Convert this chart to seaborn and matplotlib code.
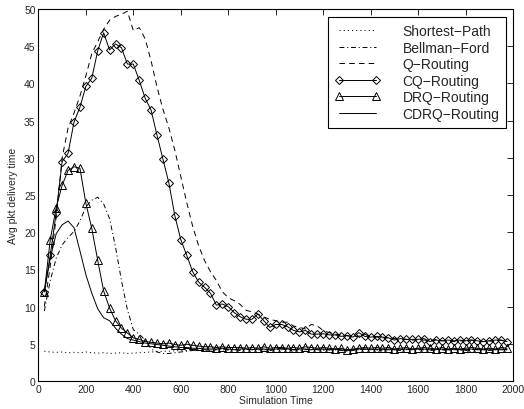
import matplotlib
matplotlib.use("Agg")
import matplotlib.pyplot as plt
import seaborn as sns
import pandas as pd

time = [25, 50, 75, 100, 125, 150, 175, 200, 225, 250, 275, 300, 325, 350, 375, 400,
        425, 450, 475, 500, 525, 550, 575, 600, 625, 650, 675, 700, 725, 750, 775, 800,
        825, 850, 875, 900, 925, 950, 975, 1000, 1025, 1050, 1075, 1100, 1125, 1150,
        1175, 1200, 1225, 1250, 1275, 1300, 1325, 1350, 1375, 1400, 1425, 1450, 1475,
        1500, 1525, 1550, 1575, 1600, 1625, 1650, 1675, 1700, 1725, 1750, 1775, 1800,
        1825, 1850, 1875, 1900, 1925, 1950, 1975]

shortest_path = [4.0, 3.9, 3.85, 3.9, 3.8, 3.85, 3.8, 3.9, 3.8, 3.75, 3.8, 3.7, 3.75, 3.8,
                 3.7, 3.75, 3.8, 3.85, 3.9, 3.95, 4.0, 4.0, 4.05, 4.1, 4.1, 4.15, 4.1, 4.2,
                 4.15, 4.2, 4.2, 4.15, 4.2, 4.25, 4.2, 4.2, 4.25, 4.2, 4.2, 4.25, 4.2, 4.2,
                 4.25, 4.2, 4.25, 4.2, 4.2, 4.25, 4.2, 4.2, 4.25, 4.2, 4.15, 4.2, 4.25, 4.2,
                 4.2, 4.25, 4.2, 4.2, 4.25, 4.2, 4.2, 4.25, 4.2, 4.2, 4.25, 4.2, 4.2, 4.25,
                 4.2, 4.2, 4.25, 4.2, 4.2, 4.25, 4.2, 4.2, 4.2]

bellman_ford = [9.4, 13.5, 16.5, 18.3, 19.3, 20.1, 21.5, 23.4, 24.3, 24.7, 23.8, 21.8, 18.0,
                13.5, 9.6, 6.9, 6.3, 5.5, 4.3, 3.9, 3.7, 3.7, 3.8, 3.9, 4.0, 4.1, 4.2, 4.2,
                4.1, 4.2, 4.3, 4.2, 4.2, 4.1, 4.2, 4.3, 4.2, 4.2, 4.1, 4.2, 4.3, 4.2, 4.2,
                4.1, 4.2, 4.3, 4.2, 4.1, 4.2, 4.2, 4.1, 4.0, 4.1, 4.2, 4.3, 4.2, 4.2, 4.1,
                4.2, 4.2, 4.1, 4.2, 4.3, 4.2, 4.2, 4.1, 4.2, 4.2, 4.1, 4.2, 4.2, 4.1, 4.2,
                4.3, 4.2, 4.1, 4.2, 4.2, 4.2]

q_routing = [10.0, 15.5, 22.0, 30.0, 34.0, 36.0, 38.3, 41.0, 44.0, 45.6, 47.3, 48.5, 49.0,
             49.3, 49.7, 47.1, 47.5, 46.0, 43.0, 39.5, 36.5, 34.0, 31.0, 27.5, 24.0, 20.8,
             18.2, 16.2, 14.7, 13.5, 12.0, 11.2, 10.8, 10.3, 9.5, 9.3, 9.0, 8.6, 8.3, 8.1,
             7.9, 7.9, 7.4, 7.2, 7.0, 7.6, 7.4, 6.8, 6.5, 6.3, 6.2, 6.1, 6.0, 6.0, 6.3, 5.9,
             5.9, 5.8, 5.8, 5.7, 5.6, 5.6, 5.5, 5.5, 5.5, 5.4, 5.6, 5.4, 5.4, 5.3, 5.4, 5.4,
             5.5, 5.3, 5.3, 5.4, 5.3, 5.5, 5.2]

cq_routing = [12.0, 16.9, 22.6, 29.5, 30.6, 34.8, 36.8, 39.6, 40.7, 44.4, 46.8, 44.5, 45.3,
              44.8, 42.6, 42.6, 40.4, 38.0, 36.4, 33.0, 29.8, 26.6, 22.2, 19.0, 16.9, 14.7,
              13.3, 12.6, 11.8, 10.2, 10.35, 10.0, 9.2, 8.65, 8.3, 8.3, 9.0, 8.1, 7.2, 7.6,
              7.6, 7.3, 6.8, 6.6, 6.8, 6.3, 6.3, 6.35, 6.2, 6.2, 6.0, 6.1, 5.9, 6.5, 6.0,
              5.9, 6.0, 5.9, 5.8, 5.5, 5.7, 5.6, 5.6, 5.6, 5.7, 5.3, 5.5, 5.4, 5.5, 5.4,
              5.5, 5.4, 5.5, 5.4, 5.3, 5.4, 5.5, 5.5, 5.3]

drq_routing = [12.0, 19.0, 23.3, 26.3, 28.3, 28.8, 28.6, 23.9, 20.5, 16.2, 12.1, 9.8, 8.1,
               7.1, 6.45, 5.8, 5.6, 5.3, 5.2, 5.1, 5.0, 5.1, 4.9, 4.8, 4.95, 4.8, 4.7, 4.6,
               4.6, 4.5, 4.6, 4.5, 4.5, 4.5, 4.4, 4.5, 4.4, 4.6, 4.4, 4.5, 4.5, 4.4, 4.5,
               4.4, 4.6, 4.5, 4.4, 4.5, 4.4, 4.3, 4.4, 4.2, 4.3, 4.4, 4.5, 4.4, 4.5, 4.4,
               4.5, 4.3, 4.4, 4.5, 4.3, 4.4, 4.5, 4.4, 4.3, 4.5, 4.3, 4.4, 4.3, 4.4, 4.5,
               4.4, 4.3, 4.4, 4.3, 4.5, 4.4]

cdrq_routing = [12.0, 16.5, 19.8, 21.0, 21.5, 20.6, 17.5, 14.3, 11.8, 9.7, 8.5, 8.1, 7.1,
                6.3, 5.7, 5.5, 5.3, 5.1, 5.0, 4.9, 4.8, 4.7, 4.6, 4.5, 4.5, 4.4, 4.4, 4.3,
                4.3, 4.3, 4.4, 4.3, 4.2, 4.3, 4.3, 4.2, 4.3, 4.3, 4.2, 4.3, 4.4, 4.3, 4.2,
                4.3, 4.3, 4.2, 4.3, 4.3, 4.2, 4.3, 4.2, 4.1, 4.2, 4.3, 4.3, 4.2, 4.3, 4.2,
                4.3, 4.2, 4.2, 4.3, 4.2, 4.3, 4.3, 4.2, 4.2, 4.3, 4.2, 4.3, 4.2, 4.2, 4.3,
                4.2, 4.2, 4.3, 4.2, 4.3, 4.2]

series_names = ["Shortest\u2212Path", "Bellman\u2212Ford", "Q\u2212Routing",
                "CQ\u2212Routing", "DRQ\u2212Routing", "CDRQ\u2212Routing"]
x_ticks = [0, 200, 400, 600, 800, 1000, 1200, 1400, 1600, 1800, 2000]
y_ticks = [0, 5, 10, 15, 20, 25, 30, 35, 40, 45, 50]

sns.set_style("white")
plt.rcParams["font.family"] = ["Liberation Sans", "DejaVu Sans"]
plt.rcParams["lines.scale_dashes"] = False

df = pd.DataFrame({"t": time, "sp": shortest_path, "bf": bellman_ford, "q": q_routing,
                   "cq": cq_routing, "drq": drq_routing, "cdrq": cdrq_routing})

fig = plt.figure(figsize=(5.24, 4.10), dpi=100)
ax = fig.add_axes([38.4 / 524, (410 - 382) / 410, (513 - 38.4) / 524, 372 / 410])

lw = 0.7
common = dict(ax=ax, color="black", linewidth=lw)
sns.lineplot(data=df, x="t", y="sp", linestyle=(0, (0.8, 2.2)), label=series_names[0], **common)
sns.lineplot(data=df, x="t", y="bf", linestyle=(0, (3.5, 2.0, 0.8, 2.0)), label=series_names[1], **common)
sns.lineplot(data=df, x="t", y="q", linestyle=(0, (4.0, 3.0)), label=series_names[2], **common)
sns.lineplot(data=df, x="t", y="cq", linestyle="-", marker="D", markersize=4.5,
             markerfacecolor="none", markeredgecolor="black", markeredgewidth=0.7,
             label=series_names[3], **common)
sns.lineplot(data=df, x="t", y="drq", linestyle="-", marker="^", markersize=5.4,
             markerfacecolor="none", markeredgecolor="black", markeredgewidth=0.7,
             label=series_names[4], **common)
sns.lineplot(data=df, x="t", y="cdrq", linestyle="-", label=series_names[5], **common)

ax.set_xlim(0, 2000)
ax.set_ylim(0, 50)
ax.set_xticks(x_ticks)
ax.set_yticks(y_ticks)
ax.tick_params(direction="in", length=4, width=0.7, top=True, right=True,
               labelsize=7.5, pad=2)
for s in ax.spines.values():
    s.set_visible(True)
    s.set_color("black")
    s.set_linewidth(0.8)
ax.set_xlabel("Simulation Time", fontsize=7.5, labelpad=1)
ax.set_ylabel("Avg pkt delivery time", fontsize=7.5, labelpad=4)

leg = ax.legend(loc="upper right", bbox_to_anchor=(0.986, 0.978), borderaxespad=0,
                fontsize=10, frameon=True, fancybox=False, edgecolor="black",
                framealpha=1, numpoints=2, handlelength=3.3, handletextpad=1.6,
                labelspacing=0.18, borderpad=0.5)
leg.get_frame().set_linewidth(0.8)

fig.savefig("out.png", dpi=100, facecolor="white")
